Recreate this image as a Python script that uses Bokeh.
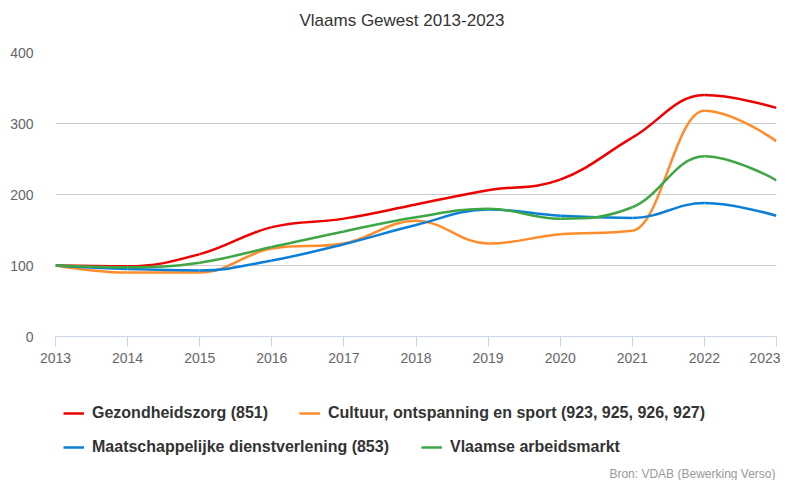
from bokeh.plotting import figure
from bokeh.models import Legend, LegendItem, Label, FixedTicker, Range1d, ColumnDataSource
from bokeh.layouts import column
from bokeh.embed import file_html
from bokeh.resources import INLINE

years = [2013, 2014, 2015, 2016, 2017, 2018, 2019, 2020, 2021, 2022, 2023]
gezondheidszorg = [100, 99, 116, 154, 166, 186, 206, 221, 280, 340, 322]
cultuur = [100, 90, 90, 124, 131, 163, 131, 144, 149, 318, 275]
maatschappelijk = [100, 95, 93, 107, 130, 157, 179, 170, 167, 188, 170]
vlaams = [100, 97.5, 104, 126, 148, 168, 180, 166, 182, 254, 220]

title_text = "Vlaams Gewest 2013-2023"
source_text = "Bron: VDAB (Bewerking Verso)"
names = ["Gezondheidszorg (851)",
         "Cultuur, ontspanning en sport (923, 925, 926, 927)",
         "Maatschappelijke dienstverlening (853)",
         "Vlaamse arbeidsmarkt"]
colors = ["#ee0000", "#ff8c2a", "#0b7fd6", "#3fa646"]
y_ticks = [0, 100, 200, 300, 400]

FONT = "Liberation Sans"


def spline_segments(xs, ys, smoothing=1.5):
    """Highcharts-style spline: cubic bezier control points per segment."""
    n = len(xs)
    left = [(x, y) for x, y in zip(xs, ys)]
    right = [(x, y) for x, y in zip(xs, ys)]
    denom = smoothing + 1
    for i in range(1, n - 1):
        px, py = xs[i], ys[i]
        lx, ly = xs[i - 1], ys[i - 1]
        nx, ny = xs[i + 1], ys[i + 1]
        lcx = (smoothing * px + lx) / denom
        lcy = (smoothing * py + ly) / denom
        rcx = (smoothing * px + nx) / denom
        rcy = (smoothing * py + ny) / denom
        if rcx != lcx:
            corr = ((rcy - lcy) * (rcx - px)) / (rcx - lcx) + py - rcy
            lcy += corr
            rcy += corr
            if lcy > ly and lcy > py:
                lcy = max(ly, py)
                rcy = 2 * py - lcy
            elif lcy < ly and lcy < py:
                lcy = min(ly, py)
                rcy = 2 * py - lcy
            if rcy > ny and rcy > py:
                rcy = max(ny, py)
                lcy = 2 * py - rcy
            elif rcy < ny and rcy < py:
                rcy = min(ny, py)
                lcy = 2 * py - rcy
        left[i] = (lcx, lcy)
        right[i] = (rcx, rcy)
    d = dict(x0=[], y0=[], x1=[], y1=[], cx0=[], cy0=[], cx1=[], cy1=[])
    for i in range(1, n):
        d["x0"].append(xs[i - 1]); d["y0"].append(ys[i - 1])
        d["x1"].append(xs[i]); d["y1"].append(ys[i])
        d["cx0"].append(right[i - 1][0]); d["cy0"].append(right[i - 1][1])
        d["cx1"].append(left[i][0]); d["cy1"].append(left[i][1])
    return d


def blank_figure(w, h):
    f = figure(width=w, height=h, output_backend="svg", toolbar_location=None,
               x_range=Range1d(0, w), y_range=Range1d(0, h),
               x_axis_location=None, y_axis_location=None,
               min_border_left=0, min_border_right=0, min_border_top=0, min_border_bottom=0)
    f.outline_line_color = None
    f.xgrid.grid_line_color = None
    f.ygrid.grid_line_color = None
    return f


W = 780

# title strip (its frame is aligned with the chart frame, starting 55px in)
TH = 40
t = blank_figure(W, TH)
t.add_layout(Label(x=346.5, y=20, x_units="screen", y_units="screen",
                   text=title_text, text_font=FONT, text_font_size="17px",
                   text_color="#333333", text_align="center", text_baseline="middle"))

p = figure(width=W, height=340, output_backend="svg", toolbar_location=None,
           x_range=Range1d(2013, 2023), y_range=Range1d(0, 400),
           min_border_left=55, min_border_right=4, min_border_top=12, min_border_bottom=44)
p.outline_line_color = None

# axes
p.xaxis.ticker = FixedTicker(ticks=years)
p.xaxis.axis_line_color = "#ccd6eb"
p.xaxis.major_tick_line_color = "#ccd6eb"
p.xaxis.major_tick_out = 10
p.xaxis.major_tick_in = 0
p.xaxis.minor_tick_line_color = None
p.xaxis.major_label_text_font = FONT
p.xaxis.major_label_text_font_size = "14px"
p.xaxis.major_label_text_color = "#666666"
p.xaxis.major_label_standoff = 6

p.yaxis.ticker = FixedTicker(ticks=y_ticks)
p.yaxis.axis_line_color = None
p.yaxis.major_tick_line_color = None
p.yaxis.minor_tick_line_color = None
p.yaxis.major_tick_out = 0
p.yaxis.major_label_standoff = 22
p.yaxis.major_label_text_font = FONT
p.yaxis.major_label_text_font_size = "14px"
p.yaxis.major_label_text_color = "#666666"

p.xgrid.grid_line_color = None
p.ygrid.grid_line_color = "#cccccc"
p.ygrid.grid_line_width = 1

series = [gezondheidszorg, cultuur, maatschappelijk, vlaams]
for vals, col in zip(series, colors):
    src = ColumnDataSource(spline_segments(years, vals))
    p.bezier(x0="x0", y0="y0", x1="x1", y1="y1", cx0="cx0", cy0="cy0",
             cx1="cx1", cy1="cy1", source=src, line_color=col, line_width=2.5)

# legend / source strip
LH = 100
q = blank_figure(W, LH)

legend_renderers = []
for vals, col in zip(series, colors):
    # single point outside the visible range: only used for the legend swatch
    legend_renderers.append(q.line(x=[years[0]], y=[vals[0]], line_color=col, line_width=2.5))


def make_legend(items, loc, spacing):
    return Legend(items=items, location=loc, orientation="horizontal",
                  label_text_font=FONT, label_text_font_size="16px",
                  label_text_font_style="bold", label_text_color="#333333",
                  glyph_width=21, glyph_height=20, label_height=20,
                  label_standoff=8, spacing=spacing,
                  padding=0, margin=0, border_line_color=None,
                  background_fill_alpha=0)


leg1 = make_legend([LegendItem(label=names[0], renderers=[legend_renderers[0]]),
                    LegendItem(label=names[1], renderers=[legend_renderers[1]])], (8, 57), 31)
leg2 = make_legend([LegendItem(label=names[2], renderers=[legend_renderers[2]]),
                    LegendItem(label=names[3], renderers=[legend_renderers[3]])], (8, 23), 32)
q.add_layout(leg1, "center")
q.add_layout(leg2, "center")

q.add_layout(Label(x=720, y=7, x_units="screen", y_units="screen",
                   text=source_text, text_font=FONT, text_font_size="12px",
                   text_color="#999999", text_align="right", text_baseline="middle"))

layout = column(t, p, q, spacing=0)
open("out.html", "w").write(file_html(layout, INLINE))
